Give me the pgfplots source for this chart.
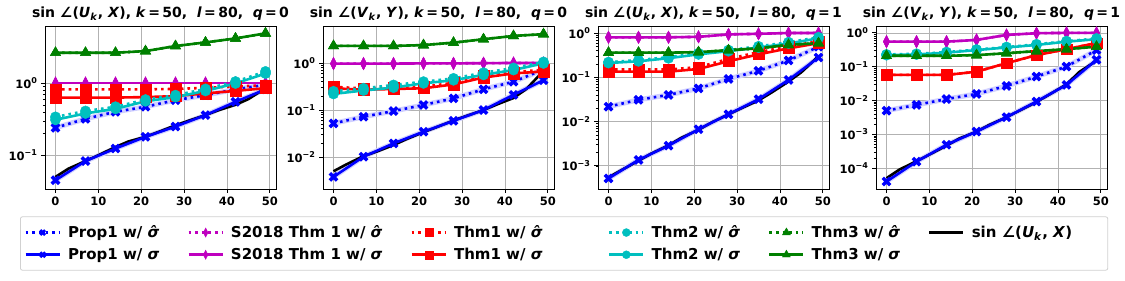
\documentclass[border=0pt]{standalone}
\usepackage{fontspec}
\setmainfont{DejaVu Sans}
\usepackage{pgfplots}
\pgfplotsset{compat=1.18}
\usepackage{pgfplotstable}

\definecolor{mplm}{rgb}{0.75,0,0.75}
\definecolor{mplc}{rgb}{0,0.75,0.75}
\definecolor{mplg}{rgb}{0,0.5,0}
\definecolor{halo}{rgb}{0.82,0.82,1}

\newcommand{\sh}{\textit{σ̂}}
\newcommand{\sg}{\textit{σ}}
\newcommand{\ang}[2]{sin ∠(\textit{#1}\textsubscript{\textit{k}}, \textit{#2})}
\newcommand{\ttl}[3]{\ang{#1}{#2}, \textit{k}\,=\,50,\ \ \textit{l}\,=\,80,\ \ \textit{q}\,=\,#3}
\newcommand{\lb}[2]{\makebox[#1pt][l]{#2}}

% panel 1: sin angle(U_k,X), q=0
\pgfplotstableread{
x  p1h   p1    s18h s18  t1h  t1   t2h  t2   t3h  t3
0  0.24  0.045 1.0  1.0  0.82 0.63 0.34 0.31 2.64 2.64
7  0.32  0.083 1.0  1.0  0.82 0.63 0.41 0.38 2.64 2.64
14 0.40  0.124 1.0  1.0  0.82 0.63 0.47 0.44 2.64 2.64
21 0.47  0.18  1.0  1.0  0.82 0.64 0.59 0.56 2.78 2.78
28 0.58  0.25  1.0  1.0  0.83 0.66 0.68 0.64 3.27 3.27
35 0.68  0.36  1.0  1.0  0.86 0.72 0.83 0.78 3.67 3.67
42 0.82  0.55  1.0  1.0  0.90 0.78 1.05 0.99 4.17 4.17
49 0.95  0.82  1.0  1.0  0.93 0.85 1.45 1.36 4.90 4.90
}\dataA
\pgfplotstableread{
x y
0 0.050
3 0.065
7 0.083
10 0.100
14 0.130
17 0.155
21 0.180
24 0.210
28 0.260
31 0.300
35 0.360
38 0.420
42 0.500
45 0.600
49 0.850
}\blkA

% panel 2: sin angle(V_k,Y), q=0
\pgfplotstableread{
x  p1h   p1     s18h s18  t1h  t1   t2h  t2   t3h  t3
0  0.052 0.0038 0.97 0.97 0.31 0.29 0.25 0.22 2.30 2.30
7  0.072 0.0102 0.97 0.97 0.29 0.27 0.29 0.26 2.30 2.30
14 0.095 0.0195 0.97 0.97 0.30 0.28 0.34 0.30 2.30 2.30
21 0.128 0.0346 0.98 0.98 0.31 0.29 0.40 0.37 2.40 2.40
28 0.177 0.059  0.98 0.98 0.38 0.35 0.47 0.43 2.70 2.70
35 0.276 0.100  0.99 0.99 0.53 0.49 0.62 0.56 3.20 3.20
42 0.400 0.210  1.0  1.0  0.64 0.60 0.78 0.71 3.75 3.75
49 0.720 0.430  1.0  1.0  0.72 0.66 1.05 0.98 4.10 4.10
}\dataB
\pgfplotstableread{
x y
0 0.0050
3 0.0070
7 0.0105
10 0.0130
14 0.0180
17 0.0240
21 0.0340
24 0.0430
28 0.0600
31 0.0750
35 0.1000
38 0.1300
42 0.1800
45 0.2800
49 0.6800
}\blkB

% panel 3: sin angle(U_k,X), q=1
\pgfplotstableread{
x  p1h    p1      s18h s18  t1h  t1    t2h   t2   t3h  t3
0  0.0217 0.00052 0.80 0.80 0.15 0.134 0.22  0.21 0.36 0.36
7  0.031  0.00136 0.80 0.80 0.15 0.134 0.245 0.23 0.36 0.36
14 0.040  0.00286 0.80 0.80 0.15 0.134 0.285 0.27 0.36 0.36
21 0.056  0.0067  0.82 0.82 0.17 0.154 0.35  0.33 0.37 0.37
28 0.092  0.0146  0.93 0.93 0.26 0.23  0.41  0.39 0.41 0.41
35 0.140  0.032   0.96 0.96 0.37 0.33  0.50  0.47 0.45 0.45
42 0.240  0.087   1.0  1.0  0.50 0.45  0.62  0.58 0.54 0.54
49 0.490  0.280   1.0  1.0  0.65 0.59  0.80  0.76 0.59 0.59
}\dataC
\pgfplotstableread{
x y
0 0.00055
3 0.00080
7 0.00130
10 0.00190
14 0.00290
17 0.00430
21 0.00650
24 0.00950
28 0.01450
31 0.02000
35 0.03000
38 0.04500
42 0.08000
45 0.13000
49 0.30000
}\blkC

% panel 4: sin angle(V_k,Y), q=1
\pgfplotstableread{
x  p1h    p1      s18h s18  t1h   t1    t2h  t2   t3h  t3
0  0.0050 0.000040 0.55 0.55 0.057 0.057 0.23 0.22 0.21 0.21
7  0.0074 0.000155 0.55 0.55 0.057 0.057 0.24 0.23 0.21 0.21
14 0.0110 0.00049  0.55 0.55 0.057 0.057 0.27 0.26 0.21 0.21
21 0.0156 0.0012   0.62 0.62 0.071 0.071 0.32 0.31 0.22 0.22
28 0.0270 0.0032   0.87 0.87 0.127 0.127 0.38 0.37 0.25 0.25
35 0.0510 0.0093   0.98 0.98 0.22  0.22  0.46 0.44 0.29 0.29
42 0.1010 0.029    1.0  1.0  0.33  0.33  0.57 0.55 0.33 0.33
49 0.3100 0.160    1.0  1.0  0.50  0.50  0.68 0.65 0.39 0.39
}\dataD
\pgfplotstableread{
x y
0 0.000050
3 0.000090
7 0.000160
10 0.000250
14 0.000460
17 0.000750
21 0.001200
24 0.001900
28 0.003200
31 0.005000
35 0.009000
38 0.015000
42 0.030000
45 0.070000
49 0.150000
}\blkD

\pgfplotsset{
  dotl/.style={line width=2.6pt, dash pattern=on 2.6pt off 4pt},
  soll/.style={line width=2.6pt, solid},
  mX/.style={mark=x, mark size=5.2pt, mark options={solid, line width=3.5pt}},
  mD/.style={mark=diamond*, mark size=6.2pt, mark options={solid, line width=0.4pt, xscale=0.68}},
  mS/.style={mark=square*, mark size=5.3pt, mark options={solid, line width=0.4pt}},
  mC/.style={mark=*, mark size=5.2pt, mark options={solid, line width=0.4pt}},
  mT/.style={mark=triangle*, mark size=6pt, mark options={solid, line width=0.4pt}},
  sP1h/.style={blue, dotl, mX},
  sP1/.style={blue, soll, mX},
  sS18h/.style={mplm, dotl, mD},
  sS18/.style={mplm, soll, mD},
  sT1h/.style={red, dotl, mS},
  sT1/.style={red, soll, mS},
  sT2h/.style={mplc, dotl, mC},
  sT2/.style={mplc, soll, mC},
  sT3h/.style={mplg, dotl, mT},
  sT3/.style={mplg, soll, mT},
  sBlk/.style={black, soll, no marks},
  sHalo/.style={halo, line width=5pt, solid, no marks},
  panel/.style={
    scale only axis, width=231pt, height=163pt,
    xmin=-2.45, xmax=51.45, xtick={0,10,20,30,40,50},
    tick align=outside, tick pos=left,
    grid=major, major grid style={black!30, line width=0.7pt},
    axis line style={line width=0.8pt},
    major tick style={black, line width=0.8pt}, minor tick style={black, line width=0.6pt},
    major tick length=4pt, minor tick length=2.2pt,
    ticklabel style={font=\bfseries\fontsize{11.5}{13}\selectfont},
    /pgf/number format/assume math mode=true,
    title style={font=\bfseries\fontsize{14}{16}\selectfont, yshift=-4pt},
    anchor=south west,
  },
}

\newcommand{\allplots}[2]{%
  \addplot[sHalo] table[y=p1h]{#1};
  \addplot[sHalo] table[y=p1]{#1};
  \addplot[sBlk] table{#2};
  \addplot[sP1h] table[y=p1h]{#1};
  \addplot[sP1] table[y=p1]{#1};
  \addplot[sS18h] table[y=s18h]{#1};
  \addplot[sS18] table[y=s18]{#1};
  \addplot[sT1h] table[y=t1h]{#1};
  \addplot[sT1] table[y=t1]{#1};
  \addplot[sT2h] table[y=t2h]{#1};
  \addplot[sT2] table[y=t2]{#1};
  \addplot[sT3h] table[y=t3h]{#1};
  \addplot[sT3] table[y=t3]{#1};
}

\begin{document}
\begin{tikzpicture}
\path[use as bounding box] (0,0) rectangle (1125pt,281pt);

\begin{semilogyaxis}[panel, at={(45pt,92pt)}, ymin=0.034, ymax=6.2,
  ytick={0.1,1}, yticklabels={10\textsuperscript{−1},10\textsuperscript{0}},
  title={\ttl{U}{X}{0}}]
\allplots{\dataA}{\blkA}
\end{semilogyaxis}

\begin{semilogyaxis}[panel, at={(323pt,92pt)}, ymin=0.0021, ymax=6.1,
  ytick={0.01,0.1,1}, yticklabels={10\textsuperscript{−2},10\textsuperscript{−1},10\textsuperscript{0}},
  title={\ttl{V}{Y}{0}}]
\allplots{\dataB}{\blkB}
\end{semilogyaxis}

\begin{semilogyaxis}[panel, at={(598pt,92pt)}, ymin=0.0003, ymax=1.44,
  ytick={0.001,0.01,0.1,1}, yticklabels={10\textsuperscript{−3},10\textsuperscript{−2},10\textsuperscript{−1},10\textsuperscript{0}},
  title={\ttl{U}{X}{1}}]
\allplots{\dataC}{\blkC}
\end{semilogyaxis}

\begin{semilogyaxis}[panel, at={(876pt,92pt)}, ymin=0.000024, ymax=1.6,
  ytick={0.0001,0.001,0.01,0.1,1}, yticklabels={10\textsuperscript{−4},10\textsuperscript{−3},10\textsuperscript{−2},10\textsuperscript{−1},10\textsuperscript{0}},
  title={\ttl{V}{Y}{1}}]
\allplots{\dataD}{\blkD}
\end{semilogyaxis}

\begin{axis}[hide axis, scale only axis, width=1pt, height=1pt,
  at={(20pt,37.5pt)}, anchor=west,
  xmin=0, xmax=1, ymin=0, ymax=1,
  legend columns=6,
  legend style={at={(0,0.5)}, anchor=west,
    draw=black!18, rounded corners=2pt, line width=0.8pt,
    font=\bfseries\fontsize{15}{17}\selectfont,
    inner xsep=4pt, inner ysep=7pt, row sep=5pt,
    /tikz/every even column/.append style={column sep=26pt},
    /tikz/every odd column/.append style={column sep=5pt},
    cells={anchor=west}},
  legend image code/.code={\draw[mark repeat=2, mark phase=2, #1] plot coordinates {(0pt,0pt) (17pt,0pt) (34pt,0pt)};}
  ]
\addlegendimage{sP1h, mark size=3.4pt, mark options={solid,line width=2.7pt}}
\addlegendentry{\lb{90}{Prop1 w/ \sh}}
\addlegendimage{sS18h, mark size=4.6pt}
\addlegendentry{\lb{151}{S2018 Thm 1 w/ \sh}}
\addlegendimage{sT1h, mark size=4pt}
\addlegendentry{\lb{126}{Thm1 w/ \sh}}
\addlegendimage{sT2h, mark size=4pt}
\addlegendentry{\lb{87}{Thm2 w/ \sh}}
\addlegendimage{sT3h, mark size=4.6pt}
\addlegendentry{\lb{87}{Thm3 w/ \sh}}
\addlegendimage{sBlk}
\addlegendentry{\lb{130}{\ang{U}{X}}}
\addlegendimage{sP1, mark size=3.4pt, mark options={solid,line width=2.7pt}}
\addlegendentry{Prop1 w/ \sg}
\addlegendimage{sS18, mark size=4.6pt}
\addlegendentry{S2018 Thm 1 w/ \sg}
\addlegendimage{sT1, mark size=4pt}
\addlegendentry{Thm1 w/ \sg}
\addlegendimage{sT2, mark size=4pt}
\addlegendentry{Thm2 w/ \sg}
\addlegendimage{sT3, mark size=4.6pt}
\addlegendentry{Thm3 w/ \sg}
\addlegendimage{empty legend}
\addlegendentry{}
\end{axis}
\end{tikzpicture}
\end{document}
